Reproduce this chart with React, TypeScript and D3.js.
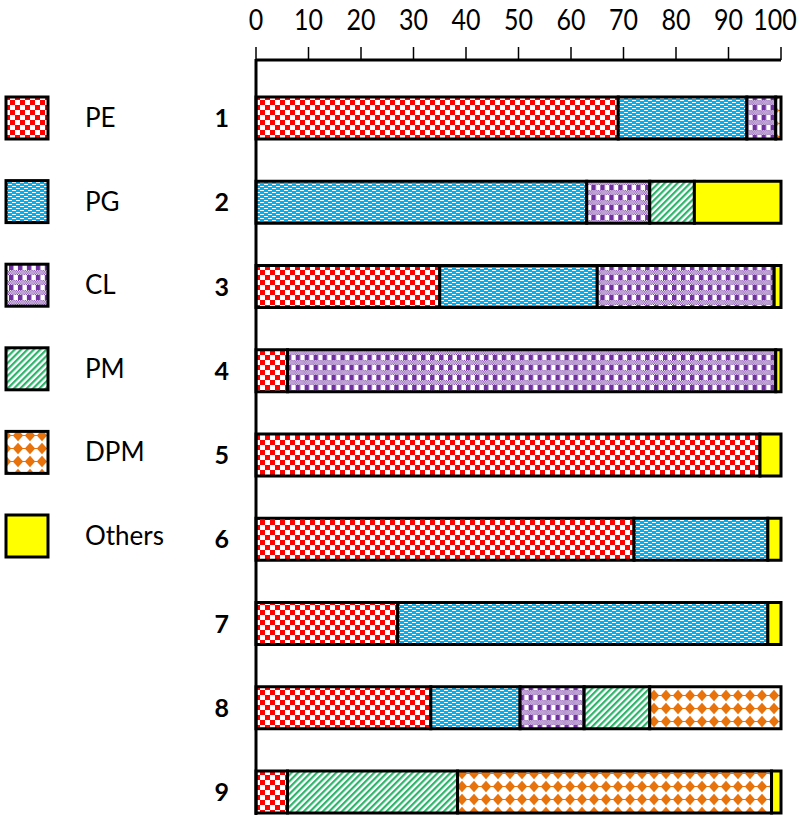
import React from "react";
import * as d3 from "d3";

const categories = ["1", "2", "3", "4", "5", "6", "7", "8", "9"];
const seriesNames = ["PE", "PG", "CL", "PM", "DPM", "Others"];
const PE = [69, 0, 35, 6, 96, 72, 27, 33.3, 6];
const PG = [24.5, 63, 30, 0, 0, 25.5, 70.5, 17, 0];
const CL = [5.5, 12, 33.7, 93, 0, 0, 0, 12.2, 0];
const PM = [0, 8.5, 0, 0, 0, 0, 0, 12.5, 32.4];
const DPM = [1, 0, 0, 0, 0, 0, 0, 25, 59.8];
const Others = [0, 16.5, 1.3, 1, 4, 2.5, 2.5, 0, 1.8];
const xTicks = [0, 10, 20, 30, 40, 50, 60, 70, 80, 90, 100];

const seriesValues: Record<string, number[]> = { PE, PG, CL, PM, DPM, Others };

const FONT = "Lato, 'Open Sans', sans-serif";

function Patterns() {
  const plaid: JSX.Element[] = [];
  for (let r = 0; r < 4; r++) {
    for (let c = 0; c < 8; c++) {
      if ((r + c) % 2 === 0) plaid.push(<rect key={`p${r}-${c}`} x={c} y={r} width={1} height={1} fill="#7030A0" />);
    }
  }
  return (
    <defs>
      <pattern id="pat-PE" patternUnits="userSpaceOnUse" width={10} height={10}>
        <rect width={10} height={10} fill="#fff" />
        <rect x={0} y={0} width={5} height={5} fill="#FF0000" />
        <rect x={5} y={5} width={5} height={5} fill="#FF0000" />
      </pattern>
      <pattern id="pat-PG" patternUnits="userSpaceOnUse" width={8} height={4}>
        <rect width={8} height={4} fill="#00B0F0" />
        <rect x={0} y={0} width={4} height={1} fill="#fff" />
        <rect x={4} y={2} width={4} height={1} fill="#fff" />
      </pattern>
      <pattern id="pat-CL" patternUnits="userSpaceOnUse" width={8} height={8} patternTransform="scale(1.12,1.25)">
        <rect width={8} height={8} fill="#fff" />
        {plaid}
        <rect x={0} y={4} width={4} height={4} fill="#7030A0" />
      </pattern>
      <pattern id="pat-PM" patternUnits="userSpaceOnUse" width={4.5} height={4.5} patternTransform="rotate(45)">
        <rect width={4.5} height={4.5} fill="#fff" />
        <rect x={0} y={0} width={2.2} height={4.5} fill="#2DB36B" />
      </pattern>
      <pattern id="pat-DPM" patternUnits="userSpaceOnUse" width={12} height={13}>
        <rect width={12} height={13} fill="#fff" />
        <polygon points="6,0.8 11.2,6.5 6,12.2 0.8,6.5" fill="#E8720C" />
        <rect x={0} y={6} width={12} height={1} fill="#E8720C" />
      </pattern>
    </defs>
  );
}

function fillFor(name: string) {
  if (name === "Others") return "#FFFF00";
  return `url(#pat-${name})`;
}

export default function App() {
  const x = d3.scaleLinear().domain([0, 100]).range([256, 781]);
  const y = d3.scalePoint<string>().domain(categories).range([118, 792]);
  const yl = d3.scalePoint<string>().domain(seriesNames).range([118, 536]);
  const barH = 42;

  const table = categories.map((c, i) => {
    const row: any = { cat: c };
    seriesNames.forEach((s) => (row[s] = seriesValues[s][i]));
    return row;
  });
  const stacked = d3.stack<any>().keys(seriesNames)(table);

  return (
    <div style={{ position: "absolute", left: 0, top: 0 }}>
      <svg width={800} height={823} style={{ display: "block" }}>
        <Patterns />
        <rect width={800} height={823} fill="#fff" />
        {stacked.map((layer) => (
          <g key={layer.key}>
            {layer.map((d, i) =>
              d[1] - d[0] > 0 ? (
                <rect
                  key={i}
                  x={x(d[0])}
                  y={(y(categories[i]) as number) - barH / 2}
                  width={x(d[1]) - x(d[0])}
                  height={barH}
                  fill={fillFor(layer.key)}
                  stroke="#000"
                  strokeWidth={3}
                />
              ) : null
            )}
          </g>
        ))}
        <line x1={x(0)} x2={x(100)} y1={60} y2={60} stroke="#000" strokeWidth={3} />
        <line x1={x(0)} x2={x(0)} y1={59} y2={815} stroke="#000" strokeWidth={3} />
        {xTicks.map((t, i) => (
          <g key={t}>
            <line x1={x(t)} x2={x(t)} y1={47} y2={60} stroke="#000" strokeWidth={1.5} />
            <text
              transform={`translate(${x(t) + (i === xTicks.length - 1 ? -6 : 0)},30) scale(1,1.15)`}
              textAnchor="middle"
              fontFamily={FONT}
              fontSize={25}
              fill="#000"
            >
              {t}
            </text>
          </g>
        ))}
        {categories.map((c) => (
          <text key={c} x={229} y={(y(c) as number) + 9} textAnchor="end" fontFamily={FONT} fontWeight="bold" fontSize={25} fill="#000">
            {c}
          </text>
        ))}
        {seriesNames.map((s) => (
          <g key={s}>
            <rect x={6} y={(yl(s) as number) - 21} width={42} height={42} fill={fillFor(s)} stroke="#000" strokeWidth={3} />
            <text x={85} y={(yl(s) as number) + 9} fontFamily={FONT} fontSize={26} fill="#000">
              {s}
            </text>
          </g>
        ))}
      </svg>
    </div>
  );
}
